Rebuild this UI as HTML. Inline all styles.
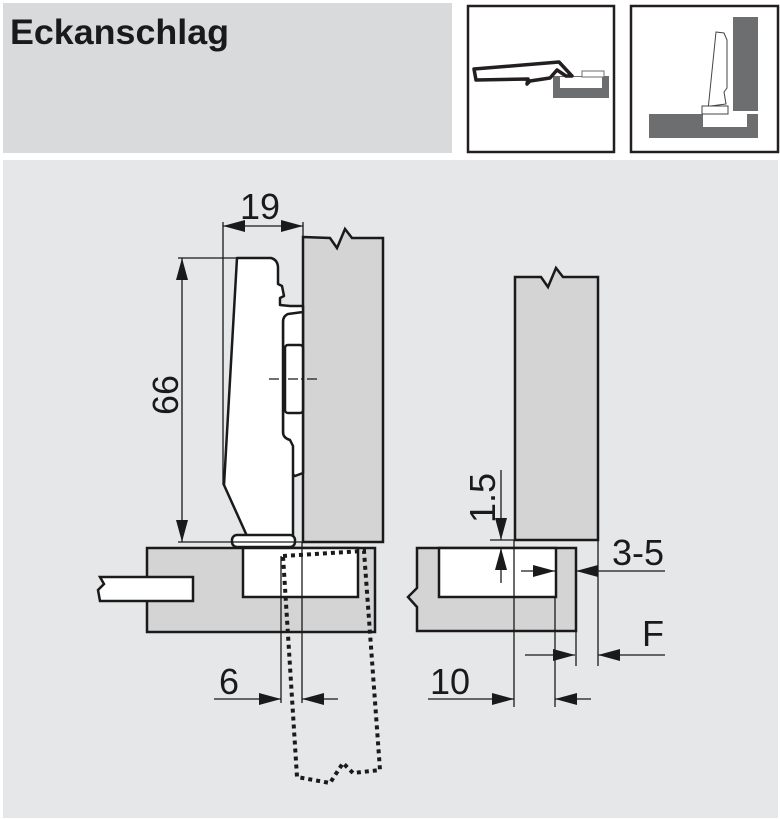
<!DOCTYPE html>
<html><head><style>
body{margin:0;background:#fff;}
svg{display:block;font-family:"Liberation Sans",Arial,sans-serif;}
</style></head><body>
<svg width="780" height="819" viewBox="0 0 780 819" xmlns="http://www.w3.org/2000/svg">
<defs>
<marker id="a" viewBox="0 0 22 12" refX="22" refY="6" markerWidth="22" markerHeight="12" markerUnits="userSpaceOnUse" orient="auto"><path d="M0,0 L22,6 L0,12 Z" fill="#1a1a1a"/></marker>
</defs>
<rect x="0" y="0" width="780" height="819" fill="#fff"/>
<rect x="3" y="3" width="449" height="150" fill="#d9dadb"/>
<text x="10" y="44" font-size="35" font-weight="bold" fill="#1a1a1a" textLength="219" lengthAdjust="spacingAndGlyphs">Eckanschlag</text>
<rect x="468" y="6" width="146" height="146" fill="#fff" stroke="#231f20" stroke-width="2.5"/>
<rect x="631" y="6" width="147" height="146" fill="#fff" stroke="#231f20" stroke-width="2.5"/>
<!-- icon 1 -->
<rect x="553" y="76" width="56" height="22" fill="#6d6e70"/>
<rect x="560" y="77" width="42" height="11" fill="#fff"/>
<rect x="582" y="71" width="22" height="6" fill="#fff" stroke="#6d6e70" stroke-width="1"/>
<path d="M474,69 L559,62 L572,76 L566,76 L557,70 L550,78 L530,81 L527,84 L528,79 L476,80 Z" fill="#fff" stroke="#231f20" stroke-width="3.5" stroke-linejoin="round"/>
<!-- icon 2 -->
<rect x="733" y="17" width="25" height="94" fill="#6d6e70"/>
<rect x="649" y="114" width="109" height="24" fill="#6d6e70"/>
<rect x="703" y="114" width="44" height="13" fill="#fff"/>
<path d="M716,32 L724,33 L727,40 L727,88 L724,92 L726,104 L711,106 L708,110 Z" fill="#fff" stroke="#444" stroke-width="1"/>
<rect x="702" y="106" width="26" height="8" fill="#fff" stroke="#444" stroke-width="1"/>

<!-- main panel -->
<rect x="3" y="160" width="775" height="658" fill="#e6e7e8"/>

<g stroke="#1a1a1a" stroke-width="2.5" fill="#d4d4d5">
<path d="M303,237 L330,238 L337,248 L345,229 L352,238 L383,238 L383,542 L303,542 Z"/>
<rect x="147" y="548" width="228" height="84"/>
<rect x="243" y="548" width="115" height="49" fill="#fff"/>
<path d="M193,577 L100,577 L104,584 L98,590 L100,601 L193,601 Z" fill="#fff"/>
<path d="M515,277 L541,277 L548,287 L556,268 L563,277 L598,277 L598,540 L515,540 Z"/>
<path d="M417,548 L576,548 L576,631 L417,631 L417,607 L408,597 L417,588 Z"/>
<rect x="439" y="548" width="117" height="49" fill="#fff"/>
</g>
<!-- hinge -->
<g stroke="#1a1a1a" stroke-width="2.5" fill="#fff" stroke-linejoin="round">
<path d="M283,310 L300,310 L303,312 L303,473 L295,476 L287,470 L283,465 Z"/>
<path d="M237,258 L271,258 Q278,260 278,268 L278,284 L282,286 L284,296 L280,298 L280,305 L290,306 L303,306 L303,312 L288,314 Q283,316 283,322 L283,432 Q283,438 290,440 L293,446 L293,536 L247,536 L224,485 Z"/>
<rect x="285" y="345" width="18" height="68" rx="3"/>
<rect x="232" y="535" width="63" height="12" rx="5"/>
</g>
<!-- dotted door -->
<path d="M283,556 L364,551 L380,770 L353,773 L343,763 L330,783 L297,777 Z" fill="none" stroke="#1a1a1a" stroke-width="4" stroke-dasharray="4,4"/>

<g stroke="#1a1a1a" stroke-width="1.3" fill="none">
<line x1="223" y1="222" x2="223" y2="485"/>
<line x1="303" y1="222" x2="303" y2="237"/>
<line x1="262" y1="226" x2="223" y2="226" marker-end="url(#a)"/>
<line x1="262" y1="226" x2="303" y2="226" marker-end="url(#a)"/>
<line x1="178" y1="258" x2="237" y2="258"/>
<line x1="178" y1="542" x2="303" y2="542"/>
<line x1="182" y1="400" x2="182" y2="258" marker-end="url(#a)"/>
<line x1="182" y1="400" x2="182" y2="542" marker-end="url(#a)"/>
<line x1="269" y1="379" x2="317" y2="379" stroke-dasharray="10,3,3,3"/>
<line x1="281" y1="556" x2="281" y2="703"/>
<line x1="302" y1="542" x2="302" y2="703"/>
<line x1="214" y1="699" x2="281" y2="699" marker-end="url(#a)"/>
<line x1="338" y1="699" x2="302" y2="699" marker-end="url(#a)"/>
<line x1="514" y1="540" x2="514" y2="707"/>
<line x1="555" y1="597" x2="555" y2="707"/>
<line x1="576" y1="631" x2="576" y2="666"/>
<line x1="598" y1="540" x2="598" y2="666"/>
<line x1="490" y1="540" x2="515" y2="540"/>
<line x1="501" y1="470" x2="501" y2="540" marker-end="url(#a)"/>
<line x1="501" y1="583" x2="501" y2="548" marker-end="url(#a)"/>
<line x1="521" y1="571" x2="555" y2="571" marker-end="url(#a)"/>
<line x1="665" y1="571" x2="576" y2="571" marker-end="url(#a)"/>
<line x1="525" y1="655" x2="575" y2="655" marker-end="url(#a)"/>
<line x1="665" y1="655" x2="598" y2="655" marker-end="url(#a)"/>
<line x1="428" y1="699" x2="514" y2="699" marker-end="url(#a)"/>
<line x1="591" y1="699" x2="555" y2="699" marker-end="url(#a)"/>
</g>

<g fill="#1a1a1a" font-size="36">
<text x="260" y="219" text-anchor="middle">19</text>
<text transform="translate(178,395) rotate(-90)" text-anchor="middle">66</text>
<text x="229" y="694" text-anchor="middle">6</text>
<text x="450" y="694" text-anchor="middle">10</text>
<text x="638" y="565" text-anchor="middle">3-5</text>
<text x="653" y="646" text-anchor="middle">F</text>
<text transform="translate(495,498) rotate(-90)" text-anchor="middle">1.5</text>
</g>
</svg>
</body></html>
